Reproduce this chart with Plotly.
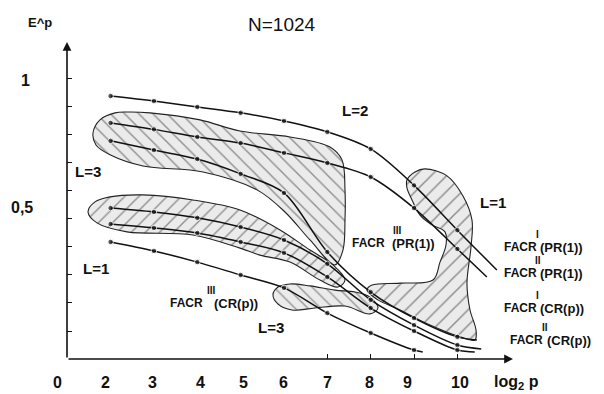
import plotly.graph_objects as go

# ---------------- data ----------------
log2p = [2, 3, 4, 5, 6, 7, 8, 9, 10]

# curves: values at log2 p = 2..10, plus the free end of each drawn line
A_y = [0.939, 0.921, 0.900, 0.879, 0.850, 0.811, 0.750, 0.620, 0.460]   # L=2 -> FACR^I(PR(1))
A_end = (10.91, 0.318)
B_y = [0.843, 0.820, 0.793, 0.771, 0.736, 0.700, 0.650, 0.539, 0.393]   # -> FACR^II(PR(1))
B_end = (10.68, 0.293)
C_y = [0.779, 0.746, 0.714, 0.661, 0.593, 0.382, 0.239, 0.146, 0.079]   # -> FACR^I(CR(p))
C_end = (10.45, 0.068)
D_y = [0.539, 0.525, 0.504, 0.471, 0.425, 0.340, 0.211, 0.121, 0.050]
D_end = (10.55, 0.036)
F_y = [0.482, 0.468, 0.450, 0.418, 0.379, 0.293, 0.182, 0.100, 0.032]
F_end = (10.40, 0.025)
E_x = [2, 3, 4, 5, 6, 7, 8, 9]
E_y = [0.418, 0.386, 0.346, 0.300, 0.254, 0.164, 0.093, 0.032]
E_end = (9.20, 0.025)

# hatched regions (outline, log2 p / E^p)
R1_x = [1.594, 1.755, 2.101, 2.378, 2.909, 4.062, 4.985, 6.138, 7.061, 7.338, 7.407, 7.407,
        7.361, 7.176, 6.600, 6.023, 5.377, 4.131, 2.747, 1.986, 1.663, 1.594]
R1_y = [0.807, 0.854, 0.879, 0.882, 0.879, 0.854, 0.814, 0.793, 0.757, 0.711, 0.604, 0.496,
        0.389, 0.336, 0.425, 0.525, 0.604, 0.668, 0.689, 0.729, 0.764, 0.807]
R2_x = [1.479, 1.640, 1.986, 2.747, 3.901, 4.985, 5.908, 6.600, 7.130, 7.407, 7.246, 6.830,
        6.138, 5.446, 4.985, 3.901, 2.378, 1.686, 1.479]
R2_y = [0.525, 0.561, 0.579, 0.586, 0.568, 0.532, 0.461, 0.389, 0.336, 0.282, 0.257, 0.282,
        0.346, 0.371, 0.396, 0.443, 0.454, 0.486, 0.525]
R3_x = [5.746, 5.862, 6.138, 6.600, 7.176, 7.638, 7.984, 8.168, 7.984, 7.407, 6.715, 6.185,
        5.862, 5.746]
R3_y = [0.229, 0.257, 0.268, 0.261, 0.246, 0.239, 0.221, 0.182, 0.161, 0.189, 0.182, 0.175,
        0.196, 0.229]
R4_x = [8.837, 9.022, 9.253, 9.760, 10.129, 10.337, 10.314, 10.221, 10.291, 10.429, 10.406,
        10.060, 9.368, 8.676, 8.168, 7.915, 8.030, 8.676, 9.437, 9.599, 9.737, 9.714, 9.414,
        9.137, 8.953, 8.837, 8.837]
R4_y = [0.639, 0.668, 0.679, 0.654, 0.582, 0.496, 0.400, 0.271, 0.175, 0.104, 0.068,
        0.079, 0.121, 0.175, 0.211, 0.246, 0.264, 0.271, 0.282, 0.346, 0.407, 0.454, 0.479,
        0.514, 0.568, 0.611, 0.639]

y_ticks = [0.1, 0.2, 0.3, 0.4, 0.5, 0.6, 0.7, 0.8, 0.9, 1.0]
x_ticks = [7, 8, 9, 10]
x_labels = ["0", "2", "3", "4", "5", "6", "7", "8", "9", "10"]

# ---------------- layout helpers ----------------
W, H = 604, 394
LM, RM, TM, BM = 67, 91, 42, 35
PW, PH = W - LM - RM, H - TM - BM
FONT = "Liberation Sans, Arial, sans-serif"


def paper(px, py):
    return (px - LM) / PW, (H - BM - py) / PH


fig = go.Figure()

# hatched regions
for rx, ry, shp, sz in [(R1_x, R1_y, "\\", 10), (R2_x, R2_y, "/", 10),
                        (R3_x, R3_y, "\\", 9), (R4_x, R4_y, "/", 11)]:
    fig.add_trace(go.Scatter(
        x=rx, y=ry, mode="lines", fill="toself",
        line=dict(color="#222222", width=1.1, shape="spline", smoothing=1),
        fillpattern=dict(shape=shp, fgcolor="#333333", bgcolor="#ebebeb",
                         size=sz, solidity=0.14),
        hoverinfo="skip", showlegend=False))

# curves
for xs, ys, end in [(log2p, A_y, A_end), (log2p, B_y, B_end), (log2p, C_y, C_end),
                    (log2p, D_y, D_end), (log2p, F_y, F_end), (E_x, E_y, E_end)]:
    cx = list(xs) + [end[0]]
    cy = list(ys) + [end[1]]
    fig.add_trace(go.Scatter(
        x=cx, y=cy, mode="lines+markers",
        line=dict(color="#111111", width=1.5, shape="spline", smoothing=0.9),
        marker=dict(color="#111111", size=[5.5] * len(xs) + [0]),
        hoverinfo="skip", showlegend=False))

ann = []


def text(t, px, py, size, bold=True, xanchor="center"):
    x, y = paper(px, py)
    ann.append(dict(x=x, y=y, xref="paper", yref="paper", text=f"<b>{t}</b>" if bold else t,
                    showarrow=False, xanchor=xanchor, yanchor="middle",
                    font=dict(family=FONT, size=size, color="#111111")))


# axes with arrows
ann.append(dict(x=0, y=1, xref="paper", yref="paper", ax=0, ay=PH, text="",
                showarrow=True, arrowhead=2, arrowsize=1.1, arrowwidth=1.6, arrowcolor="#111111"))
ann.append(dict(x=1, y=0, xref="paper", yref="paper", ax=-PW, ay=0, text="",
                showarrow=True, arrowhead=2, arrowsize=1.1, arrowwidth=1.6, arrowcolor="#111111"))

text("N=1024", 282, 25, 19, bold=False)
text("E^p", 40, 23, 13)
text("1", 25, 80, 16)
text("0,5", 22, 207, 16)
for lab, px in zip(x_labels, [57, 105, 152, 200, 243, 283, 327, 369, 407, 460]):
    text(lab, px, 382, 16)
text("log<sub>2</sub> p", 516, 382, 16)

text("L=3", 88, 171, 15)
text("L=2", 355, 110, 15)
text("L=1", 493, 202, 15)
text("L=1", 96, 268, 15)
text("L=3", 271, 327, 15)

for sup, fx, sx, py, spx, rest in [
        ("III", 168, 212, 303, 211, "(CR(p))"),
        ("III", 350, 390, 243, 397, "(PR(1))"),
        ("I", 502, 538, 247, 537, "(PR(1))"),
        ("II", 502, 538, 273, 538, "(PR(1))"),
        ("I", 502, 538, 308, 537, "(CR(p))"),
        ("II", 508, 545, 340, 545, "(CR(p))")]:
    text("FACR", fx, py, 12, xanchor="left")
    text(rest, sx, py, 13, xanchor="left")
    text(sup, spx, py - 13, 10)

fig.update_layout(
    width=W, height=H, margin=dict(l=LM, r=RM, t=TM, b=BM),
    paper_bgcolor="white", plot_bgcolor="white",
    xaxis=dict(range=[0.994, 11.283], showgrid=False, zeroline=False, showline=False,
               tickvals=x_ticks, ticks="inside", ticklen=5, tickwidth=1.2,
               tickcolor="#111111", showticklabels=False),
    yaxis=dict(range=[0, 1.132], showgrid=False, zeroline=False, showline=False,
               tickvals=y_ticks, ticks="inside", ticklen=5, tickwidth=1.2,
               tickcolor="#111111", showticklabels=False),
    annotations=ann,
)

fig.write_html("out.html", config={"displayModeBar": False},
               post_script="document.body.style.margin='0';")
